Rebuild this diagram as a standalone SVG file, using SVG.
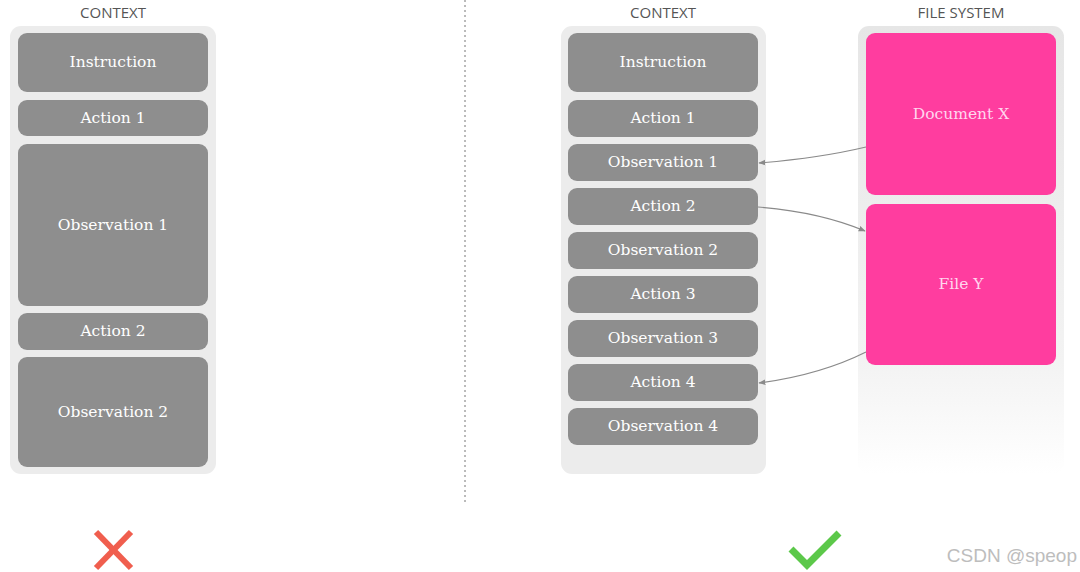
<svg xmlns="http://www.w3.org/2000/svg" width="1080" height="572" viewBox="0 0 1080 572">
<style>
.hdr{font-family:"Open Sans","Liberation Sans",sans-serif;font-size:15px;fill:#555;text-anchor:middle}
.box{fill:#8e8e8e}
.pink{fill:#ff3d9f}
.lbl{font-family:"DejaVu Serif","Liberation Serif",serif;font-size:15.5px;fill:#fff;text-anchor:middle;dominant-baseline:central}
.plbl{font-family:"DejaVu Serif","Liberation Serif",serif;font-size:15.5px;fill:#ffd6ee;text-anchor:middle;dominant-baseline:central}
.cont{fill:#ececec}
.conn{fill:none;stroke:#8a8a8a;stroke-width:1.2}
.wm{font-family:"Liberation Sans",Arial,sans-serif;font-size:19px;fill:#bdbdbd;text-anchor:end}
</style>
<defs>
<marker id="ah" viewBox="0 0 10 10" refX="9" refY="5" markerWidth="7" markerHeight="7" orient="auto-start-reverse" markerUnits="userSpaceOnUse">
<path d="M0,1 L10,5 L0,9 z" fill="#8a8a8a"/>
</marker>
<linearGradient id="fsg" x1="0" y1="0" x2="0" y2="1">
<stop offset="0" stop-color="#e6e6e6"/>
<stop offset="0.75" stop-color="#f3f3f3"/>
<stop offset="1" stop-color="#ffffff"/>
</linearGradient>
</defs>
<rect width="1080" height="572" fill="#fff"/>

<g id="left-context">
<text class="hdr" x="113" y="18">CONTEXT</text>
<rect class="cont" x="10" y="26" width="206" height="448" rx="11"/>
<g id="l-instruction"><rect class="box" x="18" y="33" width="190" height="59" rx="9"/><text class="lbl" x="113" y="62">Instruction</text></g>
<g id="l-action1"><rect class="box" x="18" y="100" width="190" height="36" rx="9"/><text class="lbl" x="113" y="118">Action 1</text></g>
<g id="l-obs1"><rect class="box" x="18" y="144" width="190" height="162" rx="9"/><text class="lbl" x="113" y="225">Observation 1</text></g>
<g id="l-action2"><rect class="box" x="18" y="313" width="190" height="37" rx="9"/><text class="lbl" x="113" y="331">Action 2</text></g>
<g id="l-obs2"><rect class="box" x="18" y="357" width="190" height="110" rx="9"/><text class="lbl" x="113" y="412">Observation 2</text></g>
</g>

<line x1="465" y1="0" x2="465" y2="502" stroke="#777" stroke-width="1" stroke-dasharray="2,3"/>

<g id="right-context">
<text class="hdr" x="663" y="18">CONTEXT</text>
<rect class="cont" x="561" y="26" width="205" height="448" rx="11"/>
<g id="r-instruction"><rect class="box" x="568" y="33" width="190" height="59" rx="9"/><text class="lbl" x="663" y="62">Instruction</text></g>
<g id="r-action1"><rect class="box" x="568" y="100" width="190" height="37" rx="9"/><text class="lbl" x="663" y="118">Action 1</text></g>
<g id="r-obs1"><rect class="box" x="568" y="144" width="190" height="37" rx="9"/><text class="lbl" x="663" y="162">Observation 1</text></g>
<g id="r-action2"><rect class="box" x="568" y="188" width="190" height="37" rx="9"/><text class="lbl" x="663" y="206">Action 2</text></g>
<g id="r-obs2"><rect class="box" x="568" y="232" width="190" height="37" rx="9"/><text class="lbl" x="663" y="250">Observation 2</text></g>
<g id="r-action3"><rect class="box" x="568" y="276" width="190" height="37" rx="9"/><text class="lbl" x="663" y="294">Action 3</text></g>
<g id="r-obs3"><rect class="box" x="568" y="320" width="190" height="37" rx="9"/><text class="lbl" x="663" y="338">Observation 3</text></g>
<g id="r-action4"><rect class="box" x="568" y="364" width="190" height="37" rx="9"/><text class="lbl" x="663" y="382">Action 4</text></g>
<g id="r-obs4"><rect class="box" x="568" y="408" width="190" height="37" rx="9"/><text class="lbl" x="663" y="426">Observation 4</text></g>
</g>

<g id="file-system">
<text class="hdr" x="961" y="18">FILE SYSTEM</text>
<rect x="858" y="26" width="206" height="448" rx="11" fill="url(#fsg)"/>
<g id="doc-x"><rect class="pink" x="866" y="33" width="190" height="162" rx="9"/><text class="plbl" x="961" y="114">Document X</text></g>
<g id="file-y"><rect class="pink" x="866" y="204" width="190" height="161" rx="9"/><text class="plbl" x="961" y="284">File Y</text></g>
</g>

<g id="connectors">
<path class="conn" d="M866,147 Q820,158 759,163" marker-end="url(#ah)"/>
<path class="conn" d="M758,207 Q820,212 865,231" marker-end="url(#ah)"/>
<path class="conn" d="M866,352 Q820,375 759,383" marker-end="url(#ah)"/>
</g>

<g id="cross" stroke="#f05e4e" stroke-width="6" stroke-linecap="butt">
<line x1="96" y1="532" x2="131" y2="568"/>
<line x1="131" y1="532" x2="96" y2="568"/>
</g>
<polyline id="check" points="791,549 807,565 839,533" fill="none" stroke="#5cc84a" stroke-width="7"/>
<text class="wm" x="1077" y="562">CSDN @speop</text>
</svg>
